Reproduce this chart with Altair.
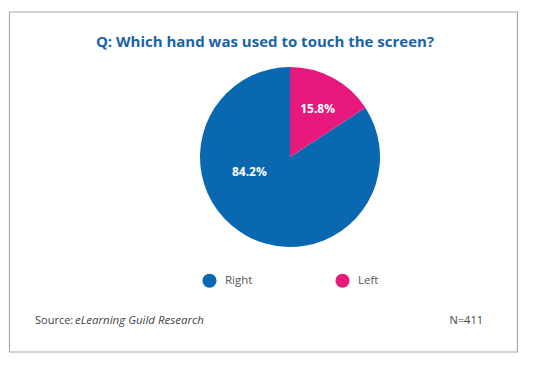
import altair as alt
import pandas as pd

# ---- data ----
categories = ["Right", "Left"]
values = [84.2, 15.8]
labels = ["84.2%", "15.8%"]
colors = ["#0A68B0", "#E8197D"]

title_text = ["Q: Which hand was used to touch the screen?"]
source_prefix = ["Source:"]
source_name = ["eLearning Guild Research"]
n_text = ["N=411"]

FONT = "Open Sans"
CX, CY, R = 280, 149, 90

df = pd.DataFrame({"category": categories, "value": values, "label": labels})

base = alt.Chart(df)

color = alt.Color(
    "category:N",
    scale=alt.Scale(domain=categories, range=colors),
    legend=alt.Legend(
        title=None,
        orient="none",
        direction="horizontal",
        legendX=192,
        legendY=265,
        symbolType="circle",
        symbolSize=200,
        symbolStrokeWidth=0,
        symbolOpacity=1,
        labelFont=FONT,
        labelFontSize=11.5,
        labelColor="#555555",
        labelOffset=8,
        columnPadding=82,
        padding=0,
    ),
)

border = alt.Chart(pd.DataFrame({"a": [0]})).mark_rect(
    fill="white", stroke="#a8a8a8", strokeWidth=1.2
).encode(x=alt.value(-0.5), x2=alt.value(507.5), y=alt.value(4), y2=alt.value(344))

pie = base.mark_arc(outerRadius=R, stroke=None).encode(
    theta=alt.Theta("value:Q", stack=True),
    order=alt.Order("category:N", sort="ascending"),
    color=color,
    x=alt.value(CX),
    y=alt.value(CY),
)

stacked = base.transform_stack(
    stack="value", groupby=[], as_=["v0", "v1"], sort=[{"field": "category", "order": "ascending"}]
).transform_calculate(mid="(datum.v0 + datum.v1) / 2")


def label_layer(cat, dx, dy):
    return stacked.transform_filter(alt.datum.category == cat).mark_text(
        font=FONT, fontWeight="bold", fontSize=12, color="white", dx=dx, dy=dy
    ).encode(
        theta=alt.Theta("mid:Q", scale=alt.Scale(domain=[0, 100])),
        radius=alt.value(58),
        text="label:N",
        x=alt.value(CX),
        y=alt.value(CY),
    )


lab_left = label_layer("Left", 0, 3)
lab_right = label_layer("Right", -13, -36)

title = alt.Chart(pd.DataFrame({"t": title_text})).mark_text(
    font=FONT, fontWeight="bold", fontSize=15, color="#1A63A8", align="center", baseline="middle"
).encode(text="t:N", x=alt.value(255), y=alt.value(34))

src1 = alt.Chart(pd.DataFrame({"t": source_prefix})).mark_text(
    font=FONT, fontSize=11, color="#444444", align="left", baseline="middle"
).encode(text="t:N", x=alt.value(25), y=alt.value(313))

src2 = alt.Chart(pd.DataFrame({"t": source_name})).mark_text(
    font=FONT, fontSize=11.5, fontStyle="italic", color="#444444", align="left", baseline="middle"
).encode(text="t:N", x=alt.value(65), y=alt.value(313))

ntext = alt.Chart(pd.DataFrame({"t": n_text})).mark_text(
    font=FONT, fontSize=11, color="#444444", align="right", baseline="middle"
).encode(text="t:N", x=alt.value(473), y=alt.value(313))

chart = alt.layer(border, pie, lab_left, lab_right, title, src1, src2, ntext).resolve_scale(
    theta="independent"
).properties(
    width=538,
    height=349,
    padding=0,
    autosize=alt.AutoSizeParams(type="fit", contains="padding"),
).configure_view(stroke=None)

chart.save("out.html", embed_options={"renderer": "svg", "actions": False})
